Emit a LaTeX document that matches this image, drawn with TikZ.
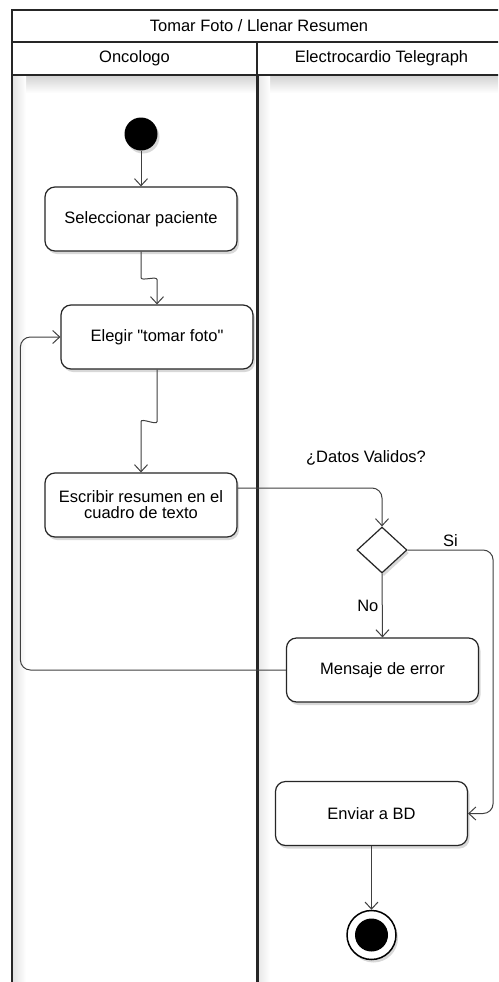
\documentclass[tikz,border=0pt]{standalone}
\usepackage{fontspec}
\setmainfont{Liberation Sans}[Ligatures=TeXOff]
\usetikzlibrary{arrows.meta,shapes.geometric,shadows,positioning}

\begin{document}
\begin{tikzpicture}[x=1pt,y=1pt,
        >={Straight Barb[length=7pt,width=13pt]},
        font=\fontsize{16.5}{16}\selectfont]
        \tikzstyle{activity}=[draw=black!85, line width=1.2pt, rounded corners=10pt, fill=white,
            minimum width=192pt, minimum height=64pt, inner sep=0pt, align=center,
            drop shadow={shadow xshift=2pt, shadow yshift=-3pt, opacity=.3}]
        \tikzstyle{decision}=[diamond, draw=black!85, line width=1.2pt, fill=white,
            minimum width=50pt, minimum height=46pt, inner sep=0pt,
            drop shadow={shadow xshift=2pt, shadow yshift=-3pt, opacity=.3}]
        \tikzstyle{flow}=[draw=black!75, line width=1pt, rounded corners=10pt]
        \tikzstyle{lane}=[draw=black!85, line width=1.5pt]
        \tikzstyle{header}=[font=\fontsize{16.5}{16.5}\selectfont]

        \useasboundingbox (0,0) rectangle (498,-982);
        \fill[white] (0,0) rectangle (498,-982);

        % swimlanes
        \begin{scope}
            \clip (0,0) rectangle (498,-982);
            \shade[top color=black!18, bottom color=white] (12,-75) rectangle (506,-93);
            \shade[left color=black!12, right color=white] (12,-75) rectangle (26,-990);
            \shade[left color=black!10, right color=white] (257,-75) rectangle (270,-990);
            \draw[lane] (12,-10) rectangle (506,-990);
            \draw[lane] (12,-42) -- (506,-42);
            \draw[lane] (12,-75) -- (506,-75);
            \draw[lane] (257,-42) -- (257,-75);
            \draw[lane, line width=3pt] (257,-75) -- (257,-990);
            \draw[lane, line width=2.5pt] (12,-75) -- (12,-990);
        \end{scope}

        \node[header] (title) at (259,-26)   {Tomar Foto / Llenar Resumen};
        \node[header] (onco)  at (134.5,-58.5) {Oncologo};
        \node[header] (ecg)   at (381.5,-58.5) {Electrocardio Telegraph};

        \node[circle, fill=black, minimum size=33pt, inner sep=0pt,
            drop shadow={shadow xshift=2pt, shadow yshift=-3pt, opacity=.3}] (start) at (141,-134) {};
        \node[activity] (sel)  at (141,-219)     {Seleccionar paciente};
        \node[activity] (eleg) at (157,-337)     {Elegir "tomar foto"};
        \node[activity] (esc)  at (141,-505)     {Escribir resumen en el\\cuadro de texto};
        \node[decision] (dec)  at (382,-550)     {};
        \node[activity] (msg)  at (382.5,-670)   {Mensaje de error};
        \node[activity] (env)  at (371.5,-813.5) {Enviar a BD};
        \node[circle, draw=black, line width=1.5pt, fill=white, minimum size=49pt, inner sep=0pt,
            drop shadow={shadow xshift=2pt, shadow yshift=-3pt, opacity=.3}] (stop) at (371.5,-935) {};
        \node[circle, fill=black, minimum size=33pt, inner sep=0pt] (stopdot) at (stop) {};

        \node (valid) at (366,-458) {¿Datos Validos?};

        \draw[flow,->] (start.south) -- (sel.north);
        \draw[flow,->] (sel.south) -- ++(0,-16) .. controls +(0,-14) and +(0,14) .. ++(16,-22) -- (eleg.north);
        \draw[flow,->] (eleg.south) -- ++(0,-42) .. controls +(0,-14) and +(0,14) .. ++(-16,-20) -- (esc.north);
        \draw[flow,->] ([yshift=17pt]esc.east) -| (dec.north);
        \draw[flow,->] (dec.south) -- node[left] {No} (msg.north);
        \draw[flow,->] (dec.east) -| node[pos=.25, above] {Si} ([xshift=25pt]env.east) -- (env.east);
        \draw[flow,->] (msg.west) -| ([xshift=-40pt]eleg.west) -- (eleg.west);
        \draw[flow,->] (env.south) -- (stop.north);
    \end{tikzpicture}
\end{document}
